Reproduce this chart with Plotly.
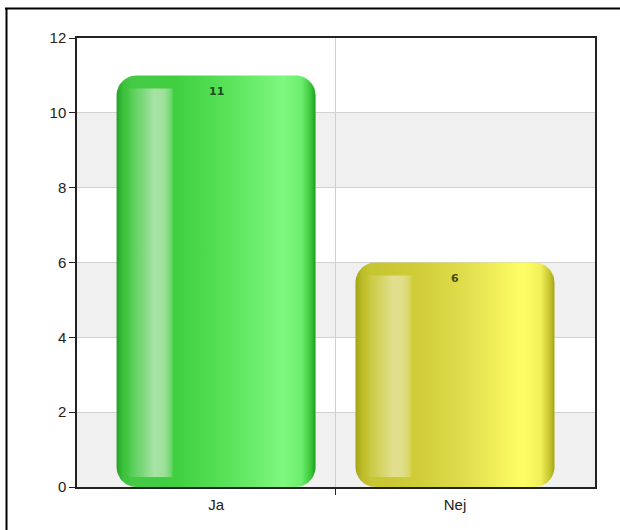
import numpy as np
import plotly.graph_objects as go

# ---- data -------------------------------------------------------------
categories = ["Ja", "Nej"]
values = [11, 6]
y_ticks = [0, 2, 4, 6, 8, 10, 12]

# ---- styling ------------------------------------------------------------
bar_scales = [
    [[0.0, "#27a127"], [0.035, "#3cc23c"], [0.08, "#46ca46"], [0.30, "#3fd03f"],
     [0.55, "#58e258"], [0.84, "#7ef87e"], [0.93, "#6cee6c"], [0.975, "#3cc63c"],
     [1.0, "#1f9f1f"]],
    [[0.0, "#a3a316"], [0.035, "#bdbd2a"], [0.08, "#c6c632"], [0.30, "#cfcc38"],
     [0.55, "#e0de4c"], [0.84, "#fefe66"], [0.93, "#f2f05a"], [0.975, "#c8c62e"],
     [1.0, "#a5a515"]],
]
stripe_tints = ["232,240,228", "240,238,200"]
label_colors = ["#1d4f1d", "#4a4a0e"]

W, H = 620, 530
ML, MR, MT, MB = 77, 25, 38, 43
PW, PH = W - ML - MR, H - MT - MB
X_RANGE = [-0.582, 1.586]
Y_RANGE = [0, 12]
BAR_W = 0.833
CORNER_PX = 20

px_x = PW / (X_RANGE[1] - X_RANGE[0])   # pixels per x unit
px_y = PH / (Y_RANGE[1] - Y_RANGE[0])   # pixels per y unit
rx, ry = CORNER_PX / px_x, CORNER_PX / px_y


def rounded_rect(x0, x1, y0, y1, rx, ry, n=14):
    """Outline of a rectangle with elliptical rounded corners."""
    t = np.linspace(0, np.pi / 2, n)
    xs, ys = [], []
    corners = [
        (x1 - rx, y1 - ry, 0.0),          # top-right
        (x0 + rx, y1 - ry, np.pi / 2),    # top-left
        (x0 + rx, y0 + ry, np.pi),        # bottom-left
        (x1 - rx, y0 + ry, 1.5 * np.pi),  # bottom-right
    ]
    for cx, cy, a0 in corners:
        xs.extend(cx + rx * np.cos(a0 + t))
        ys.extend(cy + ry * np.sin(a0 + t))
    xs.append(xs[0])
    ys.append(ys[0])
    return xs, ys


fig = go.Figure()

for i, (cat, val) in enumerate(zip(categories, values)):
    x0, x1 = i - BAR_W / 2, i + BAR_W / 2
    xs, ys = rounded_rect(x0, x1, 0, val, rx, ry)
    fig.add_trace(go.Scatter(
        x=xs, y=ys, mode="lines", fill="toself",
        line=dict(width=0),
        fillgradient=dict(type="horizontal", start=x0, stop=x1,
                          colorscale=bar_scales[i]),
        hoverinfo="skip", showlegend=False,
    ))
    # glossy highlight stripe on the left side of the bar
    s0 = x0 + 10 / px_x
    s1 = x0 + 57 / px_x
    sb = 10 / px_y
    st = val - 13 / px_y
    tint = stripe_tints[i]
    fig.add_trace(go.Scatter(
        x=[s0, s1, s1, s0, s0], y=[sb, sb, st, st, sb],
        mode="lines", fill="toself", line=dict(width=0),
        fillgradient=dict(type="horizontal", start=s0, stop=s1, colorscale=[
            [0.0, f"rgba({tint},0)"], [0.35, f"rgba({tint},0.35)"],
            [0.6, f"rgba({tint},0.62)"], [0.8, f"rgba({tint},0.55)"],
            [0.94, f"rgba({tint},0.3)"], [1.0, f"rgba({tint},0)"]]),
        hoverinfo="skip", showlegend=False,
    ))
    fig.add_annotation(
        x=i, y=val, xref="x", yref="y", text=str(val), showarrow=False,
        yanchor="middle", yshift=-16,
        font=dict(family="DejaVu Sans", size=11, color=label_colors[i],
                  weight="bold"),
    )

# alternating horizontal bands
shapes = []
for k in range(len(y_ticks) - 1):
    shapes.append(dict(
        type="rect", xref="paper", yref="y", x0=0, x1=1,
        y0=y_ticks[k], y1=y_ticks[k + 1], layer="below", line=dict(width=0),
        fillcolor="#f0f0f0" if k % 2 == 0 else "#ffffff",
    ))

# outer frame (top and left edges of the panel)
def to_px_x(p):
    return (p - ML) / PW


def to_px_y(p):
    return (H - MB - p) / PH


shapes.append(dict(type="line", xref="paper", yref="paper",
                   x0=to_px_x(5), x1=to_px_x(622), y0=to_px_y(8.5), y1=to_px_y(8.5),
                   line=dict(color="#000000", width=2), layer="above"))
shapes.append(dict(type="line", xref="paper", yref="paper",
                   x0=to_px_x(6.5), x1=to_px_x(6.5), y0=to_px_y(8), y1=to_px_y(532),
                   line=dict(color="#000000", width=2), layer="above"))

axis_font = dict(family="Liberation Sans, Arial, sans-serif", size=15, color="#222222")

fig.update_layout(
    width=W, height=H,
    margin=dict(l=ML, r=MR, t=MT, b=MB),
    paper_bgcolor="#ffffff", plot_bgcolor="#ffffff",
    shapes=shapes,
    showlegend=False,
    xaxis=dict(
        range=X_RANGE, tickvals=list(range(len(categories))), ticktext=categories,
        ticks="", showgrid=False, zeroline=False,
        showline=True, mirror=True, linecolor="#222222", linewidth=1.5,
        tickfont=axis_font, ticklabelstandoff=3,
        minor=dict(tickvals=[0.5], ticks="outside", ticklen=6, tickcolor="#222222",
                   tickwidth=1, showgrid=True, gridcolor="#cfcfcf", gridwidth=1),
        fixedrange=True,
    ),
    yaxis=dict(
        range=Y_RANGE, tickvals=y_ticks, ticks="outside", ticklen=6,
        tickcolor="#222222", showgrid=True, gridcolor="#d2d2d2", gridwidth=1,
        zeroline=False, showline=True, mirror=True, linecolor="#222222",
        linewidth=1.5, tickfont=axis_font, fixedrange=True,
    ),
)

fig.write_html("out.html")
